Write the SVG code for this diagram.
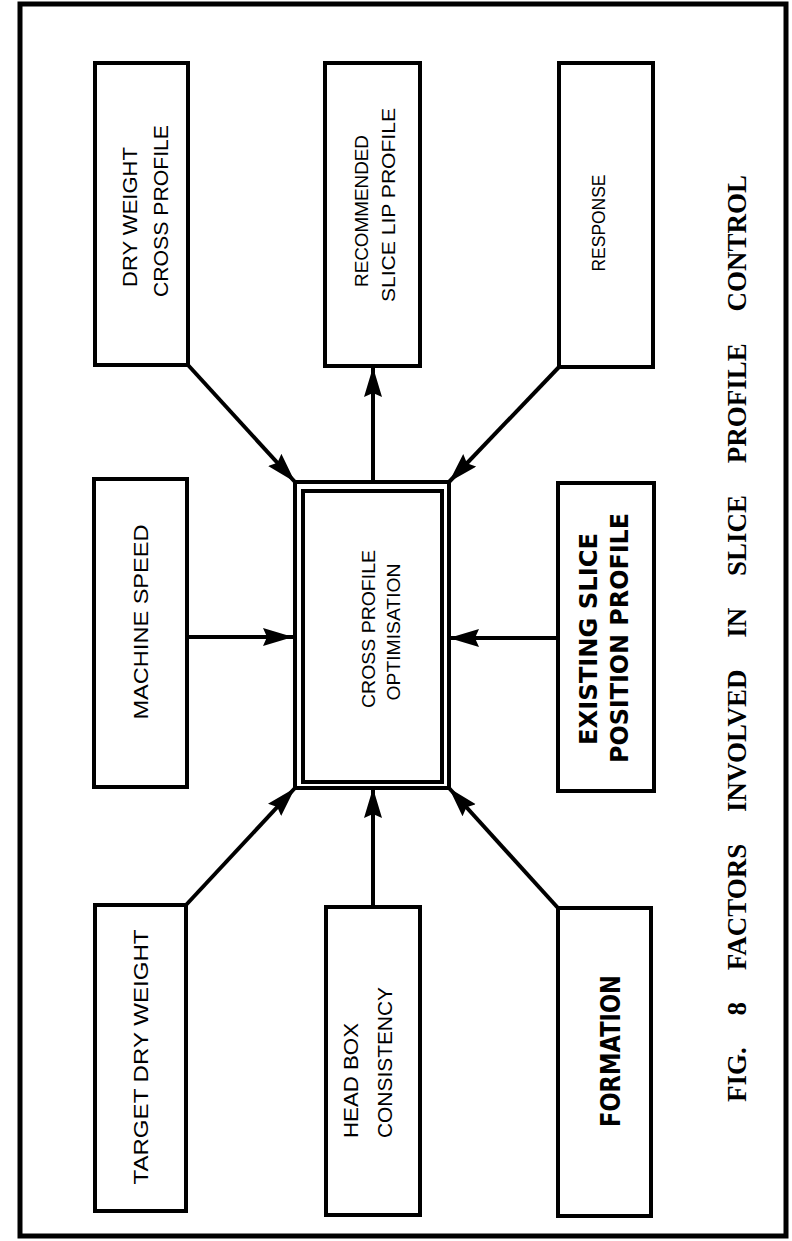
<svg xmlns="http://www.w3.org/2000/svg" width="792" height="1241" viewBox="0 0 792 1241">
<style>
.frame{fill:none;stroke:#000;stroke-width:5}
.box{fill:#fff;stroke:#000;stroke-width:4}
.con{fill:none;stroke:#000;stroke-width:4;marker-end:url(#ah)}
.t{font-family:"Liberation Sans",Arial,sans-serif;font-size:20px;fill:#000;text-anchor:middle}
.n{font-family:"Liberation Sans Narrow","Liberation Sans",Arial,sans-serif;font-size:18px;fill:#000;text-anchor:middle}
.h{font-family:"DejaVu Sans",sans-serif;font-weight:bold;font-size:24px;fill:#000;text-anchor:middle}
.title{font-family:"Liberation Serif","Times New Roman",serif;font-weight:bold;font-size:27px;fill:#000;word-spacing:25px}
</style>
<defs>
<marker id="ah" markerUnits="userSpaceOnUse" markerWidth="32" markerHeight="20" refX="30" refY="9" orient="auto">
<path d="M0,0 L30,9 L0,18 L4,9 z" fill="#000"/>
</marker>
</defs>
<rect width="792" height="1241" fill="#fff"/>
<rect class="frame" x="20" y="4" width="766" height="1232"/>

<g id="connectors">
<line class="con" x1="188" y1="365" x2="295" y2="482"/>
<line class="con" x1="373" y1="482" x2="373" y2="367"/>
<line class="con" x1="559" y1="367" x2="449" y2="482"/>
<line class="con" x1="187" y1="637" x2="293" y2="637"/>
<line class="con" x1="558" y1="638" x2="449" y2="638"/>
<line class="con" x1="186" y1="905" x2="295" y2="788"/>
<line class="con" x1="373" y1="907" x2="373" y2="788"/>
<line class="con" x1="558" y1="908" x2="449" y2="788"/>
</g>

<g id="dry-weight-cross-profile">
<rect class="box" x="95" y="63" width="93" height="302"/>
<text class="t" transform="translate(137,217) rotate(-90)" textLength="140" lengthAdjust="spacingAndGlyphs">DRY  WEIGHT</text>
<text class="t" transform="translate(168,211) rotate(-90)" textLength="172" lengthAdjust="spacingAndGlyphs">CROSS  PROFILE</text>
</g>

<g id="recommended-slice-lip-profile">
<rect class="box" x="325" y="63" width="95" height="303"/>
<text class="n" transform="translate(368,211) rotate(-90)" textLength="152" lengthAdjust="spacingAndGlyphs">RECOMMENDED</text>
<text class="n" transform="translate(395,205) rotate(-90)" textLength="194" lengthAdjust="spacingAndGlyphs">SLICE  LIP  PROFILE</text>
</g>

<g id="response">
<rect class="box" x="559" y="63" width="94" height="304"/>
<text class="n" transform="translate(605,223) rotate(-90)" textLength="97" lengthAdjust="spacingAndGlyphs">RESPONSE</text>
</g>

<g id="machine-speed">
<rect class="box" x="94" y="479" width="93" height="308"/>
<text class="t" transform="translate(148,622) rotate(-90)" textLength="195" lengthAdjust="spacingAndGlyphs">MACHINE  SPEED</text>
</g>

<g id="cross-profile-optimisation">
<rect class="box" x="295" y="482" width="154" height="306"/>
<rect class="box" x="303" y="491" width="139" height="291"/>
<text class="n" transform="translate(375,629) rotate(-90)" textLength="158" lengthAdjust="spacingAndGlyphs">CROSS  PROFILE</text>
<text class="n" transform="translate(400,632) rotate(-90)" textLength="137" lengthAdjust="spacingAndGlyphs">OPTIMISATION</text>
</g>

<g id="existing-slice-position-profile">
<rect class="box" x="558" y="483" width="96" height="308"/>
<text class="h" transform="translate(597,639) rotate(-90)" textLength="212" lengthAdjust="spacingAndGlyphs">EXISTING SLICE</text>
<text class="h" transform="translate(628,638) rotate(-90)" textLength="250" lengthAdjust="spacingAndGlyphs">POSITION PROFILE</text>
</g>

<g id="target-dry-weight">
<rect class="box" x="95" y="905" width="91" height="306"/>
<text class="t" transform="translate(148,1057) rotate(-90)" textLength="255" lengthAdjust="spacingAndGlyphs">TARGET  DRY  WEIGHT</text>
</g>

<g id="head-box-consistency">
<rect class="box" x="326" y="907" width="94" height="308"/>
<text class="t" style="text-anchor:start" transform="translate(358,1138) rotate(-90)" textLength="115" lengthAdjust="spacingAndGlyphs">HEAD  BOX</text>
<text class="t" style="text-anchor:start" transform="translate(392,1138) rotate(-90)" textLength="151" lengthAdjust="spacingAndGlyphs">CONSISTENCY</text>
</g>

<g id="formation">
<rect class="box" x="558" y="908" width="93" height="308"/>
<text class="h" style="font-size:27px" transform="translate(620,1051) rotate(-90)" textLength="152" lengthAdjust="spacingAndGlyphs">FORMATION</text>
</g>

<g id="caption">
<text class="title" transform="translate(746,1102) rotate(-90)">FIG. 8 FACTORS INVOLVED IN SLICE PROFILE CONTROL</text>
</g>
</svg>
